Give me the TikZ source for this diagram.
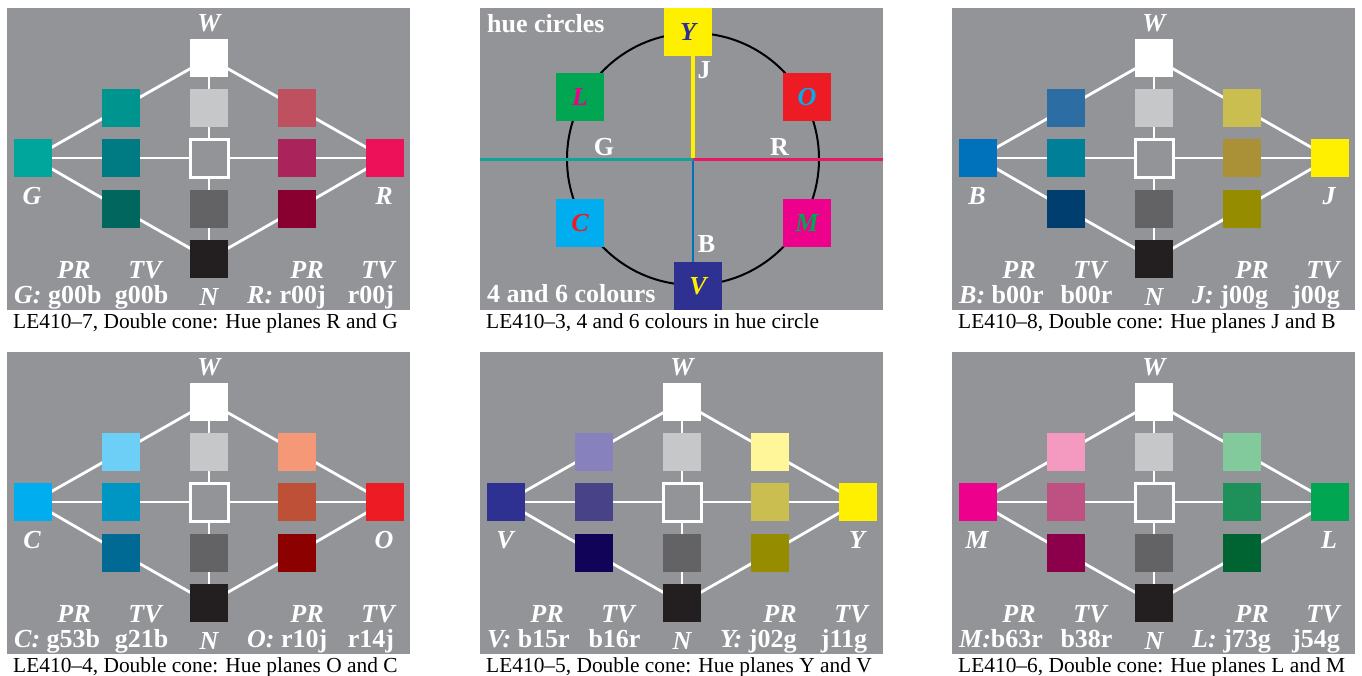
\documentclass[tikz,border=0pt]{standalone}
\usepackage{fontspec}
\setmainfont{Liberation Serif}
\pgfdeclarelayer{bglayer}
\pgfdeclarelayer{linelayer}
\pgfsetlayers{bglayer,linelayer,main}
\definecolor{bgc}{RGB}{147,148,152}
\definecolor{lgray}{RGB}{198,199,201}
\definecolor{dgray}{RGB}{99,99,101}
\definecolor{blk}{RGB}{35,31,32}
% panel 1
\definecolor{p1a}{RGB}{0,166,156}\definecolor{p1b}{RGB}{0,148,143}\definecolor{p1c}{RGB}{0,123,131}\definecolor{p1d}{RGB}{0,102,94}
\definecolor{p1e}{RGB}{237,17,90}\definecolor{p1f}{RGB}{190,80,95}\definecolor{p1g}{RGB}{170,35,90}\definecolor{p1h}{RGB}{137,0,48}
% panel 3
\definecolor{p3a}{RGB}{0,114,188}\definecolor{p3b}{RGB}{44,110,164}\definecolor{p3c}{RGB}{0,128,152}\definecolor{p3d}{RGB}{0,62,112}
\definecolor{p3e}{RGB}{255,240,0}\definecolor{p3f}{RGB}{203,190,80}\definecolor{p3g}{RGB}{170,145,55}\definecolor{p3h}{RGB}{150,140,0}
% panel 4
\definecolor{p4a}{RGB}{0,174,239}\definecolor{p4b}{RGB}{109,207,246}\definecolor{p4c}{RGB}{0,150,196}\definecolor{p4d}{RGB}{0,105,148}
\definecolor{p4e}{RGB}{237,28,36}\definecolor{p4f}{RGB}{245,152,120}\definecolor{p4g}{RGB}{190,80,56}\definecolor{p4h}{RGB}{140,0,0}
% panel 5
\definecolor{p5a}{RGB}{46,49,146}\definecolor{p5b}{RGB}{135,129,189}\definecolor{p5c}{RGB}{72,67,136}\definecolor{p5d}{RGB}{17,4,88}
\definecolor{p5e}{RGB}{255,240,0}\definecolor{p5f}{RGB}{255,245,153}\definecolor{p5g}{RGB}{203,190,80}\definecolor{p5h}{RGB}{150,140,0}
% panel 6
\definecolor{p6a}{RGB}{236,0,140}\definecolor{p6b}{RGB}{244,154,193}\definecolor{p6c}{RGB}{190,80,130}\definecolor{p6d}{RGB}{140,0,75}
\definecolor{p6e}{RGB}{0,166,81}\definecolor{p6f}{RGB}{130,202,156}\definecolor{p6g}{RGB}{30,145,90}\definecolor{p6h}{RGB}{0,100,50}
% hue circle
\definecolor{hY}{RGB}{255,240,0}\definecolor{hL}{RGB}{0,166,81}\definecolor{hO}{RGB}{237,28,36}
\definecolor{hC}{RGB}{0,174,239}\definecolor{hM}{RGB}{236,0,140}\definecolor{hV}{RGB}{46,49,146}
\definecolor{lnG}{RGB}{18,163,152}\definecolor{lnR}{RGB}{233,25,95}\definecolor{lnB}{RGB}{0,114,188}

\newcommand\labf{\fontsize{26}{26}\selectfont\bfseries\itshape}
\newcommand\codf{\fontsize{26}{26}\selectfont\bfseries}
\newcommand\captf{\fontsize{21.4}{22}\selectfont}

\tikzset{
  sq/.style={rectangle, minimum size=38pt, inner sep=0pt, outer sep=0pt},
  bigsq/.style={rectangle, minimum size=48pt, inner sep=0pt, outer sep=0pt, font=\labf},
  hollow/.style={rectangle, minimum size=38pt, inner sep=0pt, outer sep=1.5pt, draw=white, line width=3pt, fill=bgc},
  wline/.style={draw=white, line width=2.8pt},
  lab/.style={font=\labf, text=white, inner sep=0pt},
  cod/.style={font=\codf, text=white, inner sep=0pt},
  capt/.style={font=\captf, text=black, inner sep=0pt, anchor=base west},
}

% #1 X0, #2 Y0, #3 prefix, #4 left letter, #5 right letter, #6 left PR (with separator), #7 left TV, #8 right PR, #9 right TV
\newcommand\conepanel[9]{%
\begin{scope}[shift={(#1,#2)}]
\begin{pgfonlayer}{bglayer}
\fill[bgc] (0,0) rectangle (403,302);
\end{pgfonlayer}
\node[sq, fill=#3a] (#3a) at (26,150) {};
\node[sq, fill=#3b] (#3b) at (114,100) {};
\node[sq, fill=#3c] (#3c) at (114,150) {};
\node[sq, fill=#3d] (#3d) at (114,201) {};
\node[sq, fill=white] (#3W) at (202,50) {};
\node[sq, fill=lgray] (#3l) at (202,100) {};
\node[hollow] (#3m) at (202,150) {};
\node[sq, fill=dgray] (#3k) at (202,201) {};
\node[sq, fill=blk] (#3N) at (202,251) {};
\node[sq, fill=#3f] (#3f) at (290,100) {};
\node[sq, fill=#3g] (#3g) at (290,150) {};
\node[sq, fill=#3h] (#3h) at (290,201) {};
\node[sq, fill=#3e] (#3e) at (378,150) {};
\begin{pgfonlayer}{linelayer}
\draw[wline] (#3W.center) -- (#3N.center);
\draw[wline] (#3a.center) -- (#3e.center);
\draw[wline] (#3W.center) -- (#3b.center) -- (#3a.center) -- (#3d.center) -- (#3N.center)
  -- (#3h.center) -- (#3e.center) -- (#3f.center) -- cycle;
\end{pgfonlayer}
\node[lab, anchor=base] (#3tW) at (202,23) {W};
\node[lab, anchor=base] (#3tL) at (25,196) {#4};
\node[lab, anchor=base] (#3tR) at (377,196) {#5};
\node[lab, anchor=base] (#3tN) at (202,297) {N};
\node[lab, anchor=base] (#3p1) at (67,270) {PR};
\node[lab, anchor=base] (#3t1) at (138,270) {TV};
\node[lab, anchor=base] (#3p2) at (300,270) {PR};
\node[lab, anchor=base] (#3t2) at (371,270) {TV};
\node[cod, anchor=base west] (#3c1) at (7,295) {{\labf #4:}#6};
\node[cod, anchor=base] (#3c2) at (134.5,295) {#7};
\node[cod, anchor=base west] (#3c3) at (240,295) {{\labf #5:}#8};
\node[cod, anchor=base] (#3c4) at (364,295) {#9};
\end{scope}}

\begin{document}
\begin{tikzpicture}[x=1pt, y=-1pt]
\useasboundingbox (0,0) rectangle (1362,675);
\begin{pgfonlayer}{bglayer}
\fill[white] (0,0) rectangle (1362,675);
\end{pgfonlayer}

\conepanel{7}{8}{p1}{G}{R}{\ g00b}{g00b}{\ r00j}{r00j}
\conepanel{952}{8}{p3}{B}{J}{\ b00r}{b00r}{\ j00g}{j00g}
\conepanel{7}{352}{p4}{C}{O}{\ g53b}{g21b}{\ r10j}{r14j}
\conepanel{480}{352}{p5}{V}{Y}{\ b15r}{b16r}{\ j02g}{j11g}
\conepanel{952}{352}{p6}{M}{L}{b63r}{b38r}{\ j73g}{j54g}

% hue circle panel
\begin{pgfonlayer}{bglayer}
\fill[bgc] (480,8) rectangle (883,310);
\end{pgfonlayer}
\coordinate (ctr) at (693,159);
\coordinate (lend) at (480,159);
\coordinate (rend) at (883,159);
\node[bigsq, fill=hY, text=hV] (Y) at (688,32) {Y};
\node[bigsq, fill=hL, text=hM] (L) at (580,97) {L};
\node[bigsq, fill=hO, text=hC] (O) at (807,97) {O};
\node[bigsq, fill=hC, text=hO] (C) at (580,223) {C};
\node[bigsq, fill=hM, text=hL] (M) at (807,223) {M};
\node[bigsq, fill=hV, text=hY] (V) at (698,286) {V};
\begin{pgfonlayer}{linelayer}
\draw[black, line width=2pt] (ctr) circle[radius=126];
\draw[hY, line width=3.5pt] (ctr) -- (ctr |- Y.south);
\draw[lnB, line width=2.5pt] (ctr) -- (ctr |- V.north);
\draw[lnG, line width=3pt] (ctr) -- (lend);
\draw[lnR, line width=3pt] (ctr) -- (rend);
\end{pgfonlayer}
\node[cod, anchor=base] (tJ) at (704,78) {J};
\node[cod, anchor=base] (tG) at (604,155) {G};
\node[cod, anchor=base] (tR) at (779.5,155) {R};
\node[cod, anchor=base] (tB) at (706.5,252) {B};
\node[cod, anchor=base west] (thue) at (487,32) {hue circles};
\node[cod, anchor=base west] (tfour) at (487,302) {4 and 6 colours};

% captions
\node[capt] (cap1) at (13,328) {LE410--7, Double cone: Hue planes R and G};
\node[capt] (cap2) at (486,328) {LE410--3, 4 and 6 colours in hue circle};
\node[capt] (cap3) at (958,328) {LE410--8, Double cone: Hue planes J and B};
\node[capt] (cap4) at (13,672) {LE410--4, Double cone: Hue planes O and C};
\node[capt] (cap5) at (486,672) {LE410--5, Double cone: Hue planes Y and V};
\node[capt] (cap6) at (958,672) {LE410--6, Double cone: Hue planes L and M};
\end{tikzpicture}
\end{document}
